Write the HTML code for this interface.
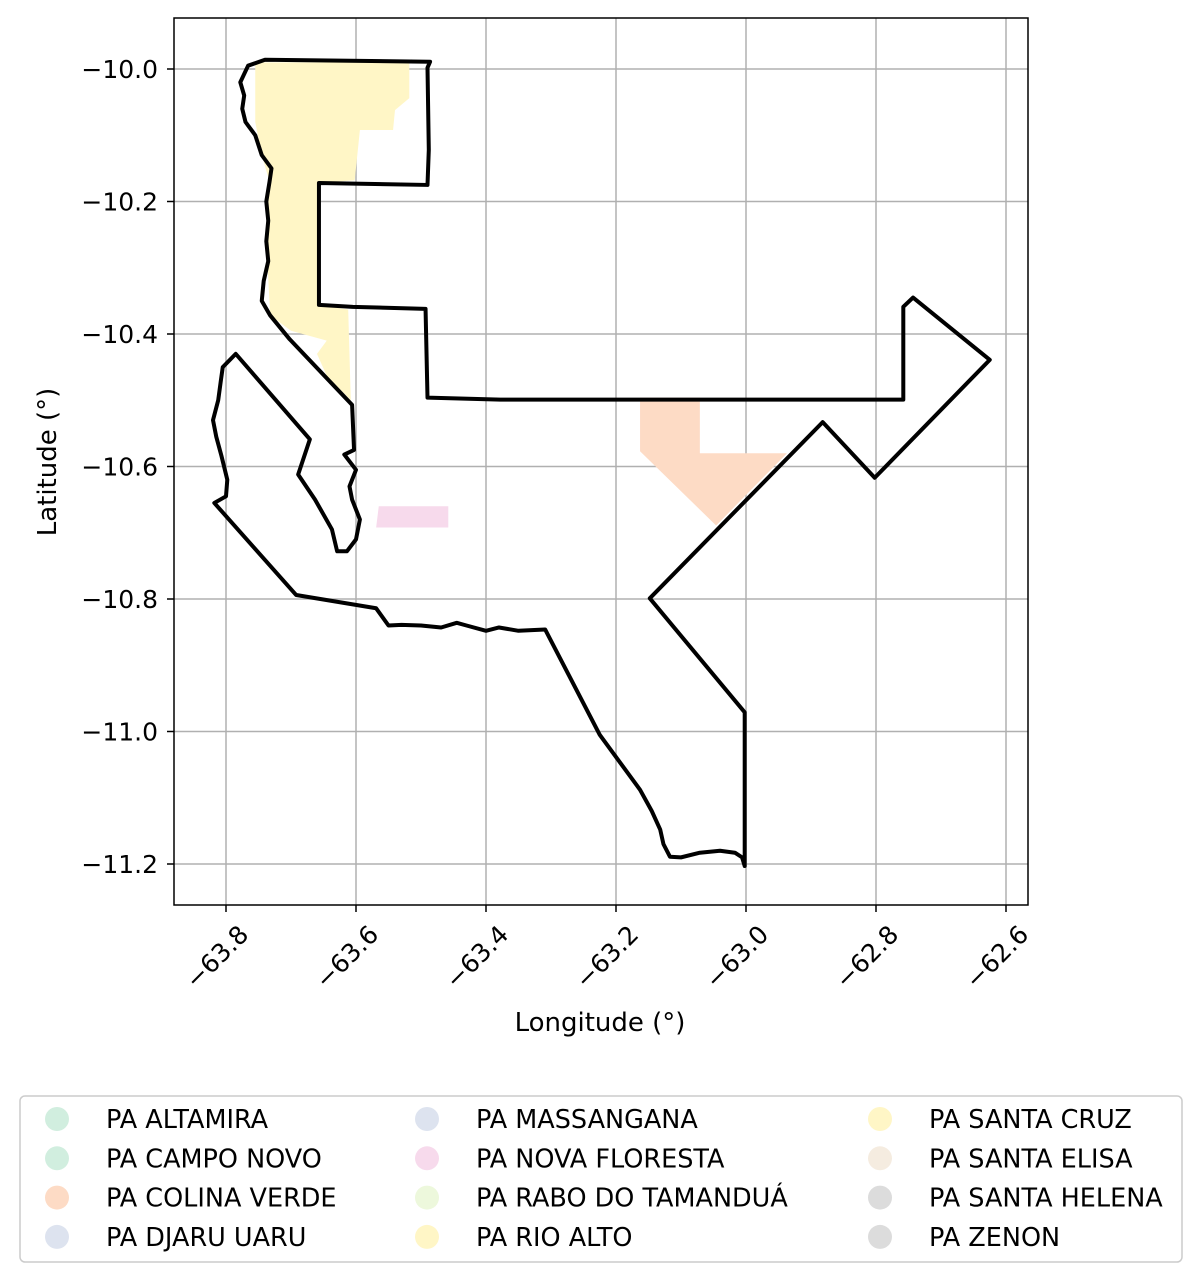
<!DOCTYPE html>
<html><head><meta charset="utf-8"><style>
body{margin:0;background:#fff;}
svg{display:block;font-family:"DejaVu Sans","Liberation Sans",sans-serif;}
</style></head><body>
<svg id="chart" width="1202" height="1281" viewBox="0 0 1202 1281">
<g id="grid"></g>
<g id="fills"></g>
<g id="outline"></g>
<rect x="174" y="18" width="854" height="887" fill="none" stroke="#000" stroke-width="1.5"/>
<g id="ticks"></g>
<text x="600" y="1031" text-anchor="middle" font-size="26">Longitude (°)</text>
<text transform="translate(56,462) rotate(-90)" text-anchor="middle" font-size="26">Latitude (°)</text>
<rect x="20" y="1096" width="1162" height="166" rx="5" fill="#fff" stroke="#ccc" stroke-width="1.5"/>
<g id="legend"></g>
</svg>
<script>
const xTicks=[-63.8,-63.6,-63.4,-63.2,-63.0,-62.8,-62.6];
const yTicks=[-10.0,-10.2,-10.4,-10.6,-10.8,-11.0,-11.2];
const legendNames=["PA ALTAMIRA","PA CAMPO NOVO","PA COLINA VERDE","PA DJARU UARU","PA MASSANGANA","PA NOVA FLORESTA","PA RABO DO TAMANDUÁ","PA RIO ALTO","PA SANTA CRUZ","PA SANTA ELISA","PA SANTA HELENA","PA ZENON"];
const legendColors=["#d1eedf","#d1eedf","#fddbc5","#dde3ef","#dde3ef","#f7daec","#edf8dc","#fff6c6","#fff6c6","#f5ece0","#dcdcdc","#dcdcdc"];
const outlineMain=[[-63.766,-9.995],[-63.74,-9.986],[-63.486,-9.989],[-63.49,-9.998],[-63.488,-10.122],[-63.49,-10.175],[-63.657,-10.172],[-63.657,-10.356],[-63.605,-10.359],[-63.493,-10.362],[-63.49,-10.496],[-63.378,-10.499],[-62.758,-10.499],[-62.758,-10.359],[-62.743,-10.345],[-62.625,-10.439],[-62.802,-10.617],[-62.882,-10.533],[-63.148,-10.799],[-63.002,-10.971],[-63.002,-11.203],[-63.006,-11.19],[-63.017,-11.183],[-63.04,-11.18],[-63.071,-11.183],[-63.1,-11.19],[-63.117,-11.189],[-63.127,-11.17],[-63.132,-11.148],[-63.145,-11.12],[-63.163,-11.088],[-63.225,-11.005],[-63.309,-10.846],[-63.35,-10.848],[-63.38,-10.843],[-63.4,-10.848],[-63.43,-10.84],[-63.445,-10.836],[-63.469,-10.843],[-63.5,-10.84],[-63.53,-10.839],[-63.55,-10.84],[-63.569,-10.814],[-63.692,-10.794],[-63.818,-10.655],[-63.8,-10.645],[-63.798,-10.62],[-63.807,-10.584],[-63.815,-10.555],[-63.82,-10.53],[-63.812,-10.5],[-63.808,-10.471],[-63.805,-10.45],[-63.785,-10.43],
[-63.671,-10.559],[-63.689,-10.612],[-63.663,-10.65],[-63.637,-10.695],[-63.629,-10.728],[-63.614,-10.728],[-63.6,-10.71],[-63.594,-10.68],[-63.606,-10.65],[-63.61,-10.63],[-63.6,-10.605],[-63.618,-10.582],[-63.603,-10.575],[-63.606,-10.507],[-63.702,-10.408],[-63.732,-10.372],[-63.745,-10.35],[-63.742,-10.32],[-63.735,-10.29],[-63.738,-10.26],[-63.735,-10.229],[-63.738,-10.2],[-63.733,-10.17],[-63.73,-10.15],[-63.745,-10.13],[-63.755,-10.1],[-63.77,-10.08],[-63.775,-10.06],[-63.772,-10.04],[-63.778,-10.02]];
const fillRioAlto=[[-63.755,-9.99],[-63.518,-9.99],[-63.518,-10.044],[-63.54,-10.062],[-63.543,-10.092],[-63.594,-10.092],[-63.602,-10.168],[-63.657,-10.172],[-63.657,-10.356],[-63.612,-10.363],[-63.608,-10.5],[-63.645,-10.463],[-63.66,-10.43],[-63.645,-10.41],[-63.7,-10.395],[-63.732,-10.372],[-63.738,-10.26],[-63.733,-10.17],[-63.745,-10.13],[-63.755,-10.08]];
const fillColina=[[-63.163,-10.496],[-63.071,-10.496],[-63.071,-10.58],[-62.937,-10.58],[-63.046,-10.689],[-63.163,-10.577]];
const fillNova=[[-63.565,-10.66],[-63.458,-10.66],[-63.458,-10.692],[-63.569,-10.692]];
const X=v=>226+(v+63.8)*650, Y=v=>69-(v+10)*662.5;
const NS="http://www.w3.org/2000/svg";
function mk(t,a,p){const e=document.createElementNS(NS,t);for(const k in a)e.setAttribute(k,a[k]);p.appendChild(e);return e;}
const fmt=v=>(v<0?"\u2212":"")+Math.abs(v).toFixed(1);
const grid=document.getElementById('grid'),ticks=document.getElementById('ticks');
xTicks.forEach(v=>{const x=X(v);
 const g=mk('line',{x1:x,x2:x,y1:18,y2:905,stroke:'#b0b0b0','stroke-width':1.5},grid);
 
 
 mk('line',{x1:x,x2:x,y1:905,y2:912,stroke:'#000','stroke-width':1.5},ticks);
 const t=mk('text',{x:0,y:0,'font-size':25,'text-anchor':'end',transform:`translate(${x+24},${936}) rotate(-45)`},ticks);
 t.textContent=fmt(v);
 
 
});
yTicks.forEach(v=>{const y=Y(v);
 const g=mk('line',{x1:174,x2:1028,y1:y,y2:y,stroke:'#b0b0b0','stroke-width':1.5},grid);
 
 
 mk('line',{x1:167,x2:174,y1:y,y2:y,stroke:'#000','stroke-width':1.5},ticks);
 const t=mk('text',{x:158,y:y+9,'font-size':25,'text-anchor':'end'},ticks);
 t.textContent=fmt(v);
 
 
});
const pts=a=>a.map(p=>X(p[0])+','+Y(p[1])).join(' ');
const fills=document.getElementById('fills');
[[fillRioAlto,'#fff6c6','fill-rio-alto'],[fillColina,'#fddbc5','fill-colina-verde'],[fillNova,'#f7daec','fill-nova-floresta']].forEach(f=>{
 const e=mk('polygon',{points:pts(f[0]),fill:f[1]},fills);
 
 
});
const ol=document.getElementById('outline');
const e=mk('polygon',{points:pts(outlineMain),fill:'none',stroke:'#000','stroke-width':4,'stroke-linejoin':'round'},ol);


const lg=document.getElementById('legend');
const colX=[57,427,880];
legendNames.forEach((n,i)=>{const c=Math.floor(i/4),r=i%4,y=1119+r*39.3;
 const g=mk('g',{},lg);
 
 
 mk('circle',{cx:colX[c],cy:y,r:12,fill:legendColors[i]},g);
 const t=mk('text',{x:colX[c]+49,y:y+9,'font-size':25.5},g);
 t.textContent=n;
});
</script>
</body></html>
